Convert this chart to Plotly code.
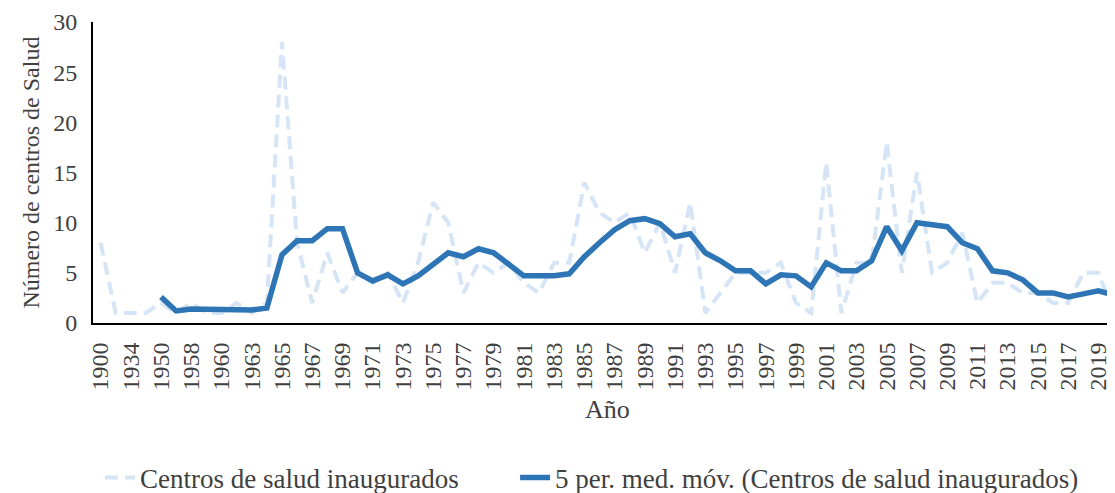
import plotly.graph_objects as go

years = ["1900", "1920", "1934", "1945", "1950", "1955", "1958", "1959", "1960", "1962",
         "1963", "1964", "1965", "1966", "1967", "1968", "1969", "1970", "1971", "1972",
         "1973", "1974", "1975", "1976", "1977", "1978", "1979", "1980", "1981", "1982",
         "1983", "1984", "1985", "1986", "1987", "1988", "1989", "1990", "1991", "1992",
         "1993", "1994", "1995", "1996", "1997", "1998", "1999", "2000", "2001", "2002",
         "2003", "2004", "2005", "2006", "2007", "2008", "2009", "2010", "2011", "2012",
         "2013", "2014", "2015", "2016", "2017", "2018", "2019", "2020"]

centros = [8, 1, 1, 1, 2, 1, 2, 1, 1, 2,
           1, 2, 28, 8, 2, 7, 3, 5, 4, 5,
           2, 6, 12, 10, 3, 6, 5, 6, 4, 3,
           6, 6, 14, 11, 10, 11, 7, 10, 5, 12,
           1, 3, 5, 5, 5, 6, 2, 1, 16, 1,
           6, 6, 18, 5, 15, 5, 6, 9, 2, 4,
           4, 3, 3, 2, 2, 5, 5, 1]

media_movil = [None, None, None, None, 2.6, 1.2, 1.4, 1.4, 1.4, 1.3,
               1.3, 1.5, 6.8, 8.2, 8.2, 9.4, 9.4, 5.0, 4.2, 4.8,
               3.9, 4.7, 5.8, 7.0, 6.6, 7.4, 7.0, 5.9, 4.7, 4.7,
               4.7, 4.9, 6.6, 8.0, 9.3, 10.2, 10.4, 9.9, 8.6, 8.9,
               7.0, 6.2, 5.2, 5.2, 3.9, 4.8, 4.7, 3.6, 6.0, 5.2,
               5.2, 6.2, 9.6, 7.2, 10.0, 9.8, 9.6, 8.0, 7.4, 5.2,
               5.0, 4.3, 3.0, 3.0, 2.6, 2.9, 3.2, 2.8]

y_ticks = [0, 5, 10, 15, 20, 25, 30]

FONT = "Liberation Serif, Times New Roman, serif"
TXT = "#404040"

fig = go.Figure()
fig.add_trace(go.Scatter(
    x=years, y=centros, mode="lines",
    name="Centros de salud inaugurados",
    line=dict(color="#D5E5F5", width=4, dash="13px,7px"),
    legend="legend",
))
fig.add_trace(go.Scatter(
    x=years, y=media_movil, mode="lines",
    name="5 per. med. móv. (Centros de salud inaugurados)",
    line=dict(color="#2E75B6", width=5.5),
    connectgaps=False,
    legend="legend2",
))

legend_font = dict(family=FONT, size=27, color=TXT)

fig.update_layout(
    template="none",
    width=1107, height=485,
    margin=dict(l=85, r=0, t=14, b=170, autoexpand=False),
    paper_bgcolor="white", plot_bgcolor="white",
    font=dict(family=FONT, size=24, color=TXT),
    showlegend=True,
    legend=dict(orientation="h", x=0.0068, xanchor="left", y=-0.515, yanchor="middle",
                bgcolor="rgba(0,0,0,0)", font=legend_font),
    legend2=dict(orientation="h", x=0.413, xanchor="left", y=-0.515, yanchor="middle",
                 bgcolor="rgba(0,0,0,0)", font=legend_font),
    xaxis=dict(
        type="category", categoryorder="array", categoryarray=years,
        range=[-0.5, 67.1], automargin=False,
        tickmode="array", tickvals=years[::2], ticktext=years[::2],
        tickangle=-90, ticks="", ticklabelstandoff=8,
        showline=True, linecolor="black", linewidth=2,
        showgrid=False, zeroline=False,
        tickfont=dict(family=FONT, size=24, color=TXT),
    ),
    yaxis=dict(
        range=[0, 30], tickmode="array", tickvals=y_ticks, automargin=False,
        ticks="", ticklabelstandoff=9,
        showline=True, linecolor="black", linewidth=2,
        showgrid=False, zeroline=False,
        tickfont=dict(family=FONT, size=24, color=TXT),
    ),
    annotations=[
        dict(text="Año", xref="paper", yref="paper", x=0.503, y=-0.289,
             xanchor="center", yanchor="middle", showarrow=False,
             font=dict(family=FONT, size=26, color=TXT)),
        dict(text="Número de centros de Salud", xref="paper", yref="paper",
             x=-0.0616, y=0.5, xanchor="center", yanchor="middle",
             textangle=-90, showarrow=False,
             font=dict(family=FONT, size=24, color=TXT)),
    ],
)

fig.write_html("out.html")
